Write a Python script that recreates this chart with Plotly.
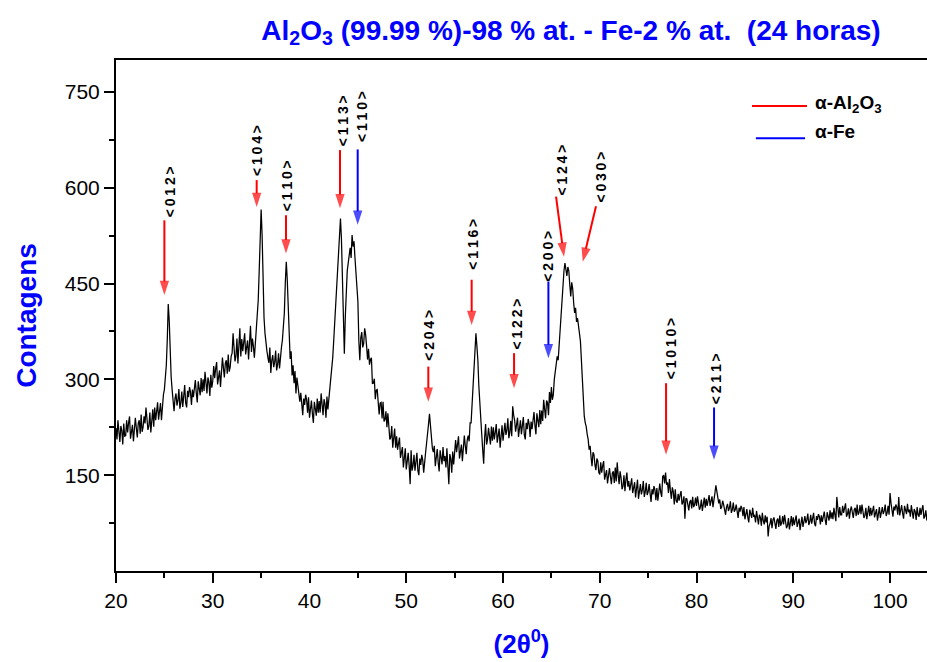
import numpy as np
import plotly.graph_objects as go

# XRD scan: 2-theta grid start/step and measured counts (one row per degree)
two_theta_start = 20.0
two_theta_step = 0.1
counts = [
    224, 206, 236, 215, 202, 227, 220, 198, 231, 211,
    212, 236, 217, 232, 242, 207, 215, 229, 203, 224,
    240, 224, 209, 231, 236, 215, 245, 218, 225, 242,
    231, 256, 243, 221, 227, 248, 217, 240, 253, 226,
    256, 236, 249, 264, 237, 248, 263, 236, 266, 276,
    284, 300, 322, 362, 418, 392, 340, 304, 284, 268,
    250, 270, 278, 259, 267, 285, 254, 263, 281, 257,
    277, 291, 263, 256, 282, 272, 288, 280, 260, 284,
    272, 291, 299, 278, 264, 297, 285, 275, 302, 280,
    300, 282, 312, 291, 278, 303, 296, 274, 307, 287,
    297, 321, 302, 317, 327, 292, 300, 314, 288, 309,
    334, 318, 303, 325, 330, 309, 339, 312, 319, 336,
    341, 372, 353, 328, 337, 364, 325, 350, 380, 336,
    363, 344, 355, 372, 339, 348, 361, 331, 358, 384,
    343, 364, 352, 334, 356, 380, 394, 424, 470, 520,
    566, 526, 456, 396, 372, 354, 344, 334, 326, 350,
    310, 330, 338, 319, 327, 345, 314, 323, 341, 317,
    339, 350, 362, 380, 404, 452, 484, 456, 414, 368,
    332, 344, 306, 322, 294, 313, 278, 303, 286, 270,
    265, 279, 251, 244, 270, 260, 276, 268, 248, 272,
    240, 259, 267, 246, 232, 265, 253, 243, 270, 248,
    266, 248, 278, 257, 244, 269, 262, 240, 273, 253,
    268, 280, 294, 312, 334, 360, 386, 420, 448, 480,
    506, 530, 552, 520, 470, 400, 340, 398, 452, 470,
    482, 498, 506, 490, 526, 508, 516, 490, 470, 450,
    422, 360, 330, 365, 374, 350, 356, 380, 370, 352,
    331, 348, 323, 331, 334, 293, 294, 301, 269, 283,
    284, 264, 245, 263, 264, 239, 265, 234, 237, 250,
    225, 247, 231, 206, 209, 227, 193, 213, 223, 193,
    211, 190, 198, 209, 177, 184, 194, 162, 186, 192,
    159, 178, 185, 165, 136, 189, 157, 165, 182, 157,
    171, 185, 157, 150, 176, 166, 182, 174, 154, 178,
    186, 200, 212, 230, 246, 222, 206, 192, 186, 196,
    164, 183, 191, 170, 156, 189, 177, 167, 194, 172,
    180, 162, 192, 171, 136, 183, 176, 154, 187, 167,
    181, 205, 186, 201, 211, 176, 184, 198, 172, 193,
    212, 196, 183, 205, 212, 203, 232, 232, 262, 290,
    314, 345, 372, 352, 330, 290, 258, 232, 214, 190,
    168, 209, 230, 198, 206, 224, 214, 198, 226, 204,
    225, 206, 217, 230, 201, 210, 223, 193, 220, 228,
    204, 224, 232, 213, 221, 239, 208, 217, 235, 211,
    258, 244, 236, 218, 228, 240, 210, 226, 236, 214,
    227, 241, 213, 206, 232, 222, 238, 230, 210, 234,
    222, 241, 249, 228, 214, 247, 235, 225, 252, 230,
    251, 235, 268, 249, 239, 267, 263, 244, 280, 263,
    288, 268, 276, 300, 314, 328, 336, 330, 356, 374,
    396, 420, 446, 470, 482, 466, 462, 476, 470, 448,
    430, 452, 442, 420, 404, 412, 390, 396, 378, 372,
    360, 330, 298, 265, 242, 232, 226, 214, 206, 190,
    196, 178, 164, 186, 182, 166, 158, 176, 172, 154,
    151, 170, 154, 165, 172, 143, 149, 158, 137, 152,
    161, 148, 136, 153, 156, 138, 162, 140, 170, 150,
    136, 156, 146, 128, 133, 150, 125, 143, 154, 132,
    141, 126, 134, 145, 122, 129, 139, 115, 137, 143,
    113, 129, 136, 120, 127, 141, 116, 124, 138, 119,
    124, 136, 113, 108, 128, 120, 133, 127, 111, 130,
    110, 128, 137, 123, 116, 148, 150, 137, 154, 135,
    139, 122, 144, 126, 113, 131, 124, 104, 128, 110,
    107, 121, 110, 119, 125, 104, 108, 117, 82, 114,
    113, 104, 95, 108, 111, 98, 116, 100, 104, 115,
    102, 117, 109, 96, 100, 112, 94, 107, 115, 99,
    113, 102, 110, 119, 102, 109, 117, 100, 117, 122,
    134, 124, 118, 106, 112, 97, 100, 110, 104, 95,
    88, 100, 105, 94, 99, 109, 91, 96, 107, 93,
    96, 104, 87, 83, 99, 93, 102, 98, 86, 100,
    81, 92, 97, 84, 76, 96, 89, 83, 99, 86,
    87, 76, 94, 81, 73, 88, 84, 71, 91, 79,
    73, 87, 76, 85, 54, 70, 74, 83, 67, 80,
    84, 75, 66, 79, 82, 69, 87, 71, 75, 86,
    73, 88, 80, 67, 71, 83, 65, 78, 86, 70,
    84, 72, 79, 87, 69, 75, 82, 64, 81, 85,
    69, 81, 86, 75, 80, 90, 72, 77, 88, 74,
    83, 91, 74, 70, 86, 80, 89, 85, 73, 87,
    77, 88, 93, 80, 72, 92, 85, 79, 95, 82,
    92, 81, 99, 86, 78, 116, 96, 84, 100, 88,
    88, 102, 91, 100, 106, 85, 89, 98, 82, 95,
    101, 92, 83, 96, 99, 86, 104, 88, 92, 103,
    89, 104, 96, 83, 87, 99, 81, 94, 102, 86,
    99, 87, 94, 102, 84, 90, 97, 79, 96, 100,
    83, 95, 100, 89, 94, 104, 86, 91, 102, 88,
    122, 106, 89, 85, 101, 95, 104, 100, 88, 116,
    87, 98, 103, 90, 82, 102, 95, 89, 105, 92,
    96, 85, 103, 90, 82, 97, 93, 80, 100, 88,
    85, 99, 88, 97, 103, 82, 86, 95, 79, 92,
    88,
]
two_theta = np.round(two_theta_start + two_theta_step * np.arange(len(counts)), 2)

# Indexed reflections: Miller indices, phase, arrow tail -> tip, label centre
hkl_labels = ["<012>", "<104>", "<110>", "<113>", "<110>", "<204>", "<116>",
              "<122>", "<200>", "<124>", "<030>", "<1010>", "<211>"]
hkl_phase = ["Al2O3", "Al2O3", "Al2O3", "Al2O3", "Fe", "Al2O3", "Al2O3",
             "Al2O3", "Fe", "Al2O3", "Al2O3", "Al2O3", "Fe"]
arrow_tail_x = [25.0, 34.54, 37.57, 43.15, 44.98, 52.28, 56.76, 61.14, 64.69, 65.48, 69.61, 76.85, 81.81]
arrow_tail_y = [549, 612, 557, 659, 660, 320, 456, 341, 453, 586, 571, 294, 256]
arrow_tip_x = [25.0, 34.54, 37.57, 43.15, 44.98, 52.28, 56.76, 61.14, 64.69, 66.30, 68.24, 76.85, 81.81]
arrow_tip_y = [432, 570, 497, 568, 542, 265, 385, 286, 333, 492, 484, 182, 174]
label_x = [25.55, 34.57, 37.67, 43.42, 45.40, 52.40, 56.90, 61.45, 64.65, 66.0, 70.03, 77.31, 81.96]
label_y = [594, 659, 604, 705, 712, 369, 511, 386, 492, 627, 616, 348, 301]

phase_colors = {"Al2O3": "#ff0000", "Fe": "#0000ff"}
phase_names = {"Al2O3": "\u03b1-Al<sub>2</sub>O<sub>3</sub>", "Fe": "\u03b1-Fe"}

x_range = [20, 103.82]
y_range = [0, 800]

fig = go.Figure()
fig.add_trace(go.Scatter(
    x=two_theta, y=counts, mode="lines",
    line=dict(color="black", width=1.25),
    showlegend=False, hoverinfo="x+y",
))

# Reflection arrows: shaft from tail to tip, arrowhead marker oriented along the shaft
for ph, tx, ty, hx, hy in zip(hkl_phase, arrow_tail_x, arrow_tail_y, arrow_tip_x, arrow_tip_y):
    fig.add_trace(go.Scatter(
        x=[tx, hx], y=[ty, hy], mode="lines+markers",
        line=dict(color=phase_colors[ph], width=2),
        marker=dict(symbol="arrow", angleref="previous", size=[0, 15],
                    color=phase_colors[ph], line=dict(width=0)),
        showlegend=False, hoverinfo="skip", cliponaxis=False,
    ))

annotations = []
thin = "\u2009"
for lab, lx, ly in zip(hkl_labels, label_x, label_y):
    txt = thin.join(lab).replace("<", "&lt;").replace(">", "&gt;")
    annotations.append(dict(
        x=lx, y=ly, xref="x", yref="y", text=txt, showarrow=False,
        textangle=-90, xanchor="center", yanchor="middle",
        font=dict(family="Liberation Sans, Arial, sans-serif", size=14, color="black", weight="bold"),
    ))

# Phase key (top right)
key_rows = [("Al2O3", 0.7842, 0.852, 0.910, 0.914), ("Fe", 0.789, 0.8496, 0.847, 0.861)]
shapes = []
for ph, x0, x1, yl, yt in key_rows:
    shapes.append(dict(type="line", xref="paper", yref="paper", x0=x0, x1=x1, y0=yl, y1=yl,
                       line=dict(color=phase_colors[ph], width=2)))
    annotations.append(dict(
        x=0.8594, y=yt, xref="paper", yref="paper", text=phase_names[ph], showarrow=False,
        xanchor="left", yanchor="middle",
        font=dict(family="Liberation Sans, Arial, sans-serif", size=19, color="black", weight="bold"),
    ))

fig.update_layout(
    width=927, height=662,
    margin=dict(l=116, r=0, t=60, b=91),
    paper_bgcolor="white", plot_bgcolor="white",
    title=dict(
        text="Al<sub>2</sub>O<sub>3</sub> (99.99 %)-98 % at. - Fe-2 % at. \u00a0(24 horas)",
        x=0.616, xanchor="center", xref="container",
        y=0.955, yanchor="middle", yref="container",
        font=dict(family="Liberation Sans, Arial, sans-serif", size=28, color="#0000ff", weight="bold"),
    ),
    annotations=annotations,
    shapes=shapes,
    showlegend=False,
)

fig.update_xaxes(
    range=x_range, showgrid=False, zeroline=False,
    showline=True, linecolor="black", linewidth=2, mirror=True,
    ticks="outside", ticklen=10, tickwidth=1.5, tickcolor="black",
    tickmode="linear", tick0=0, dtick=10,
    minor=dict(ticks="outside", ticklen=5, tickwidth=1.5, tickcolor="black", dtick=5, tick0=0, showgrid=False),
    tickfont=dict(family="Liberation Sans Narrow, Arial Narrow, Liberation Sans, sans-serif", size=21, color="black"),
    title=dict(text="(2\u03b8<sup>0</sup>)", standoff=24,
               font=dict(family="Liberation Sans, Arial, sans-serif", size=26, color="#0000ff", weight="bold")),
)
fig.update_yaxes(
    range=y_range, showgrid=False, zeroline=False,
    showline=True, linecolor="black", linewidth=2, mirror=False,
    ticks="outside", ticklen=10, tickwidth=1.5, tickcolor="black",
    tickmode="array", tickvals=[150, 300, 450, 600, 750],
    minor=dict(ticks="outside", ticklen=5, tickwidth=1.5, tickcolor="black",
               tickvals=[75, 225, 375, 525, 675], showgrid=False),
    tickfont=dict(family="Liberation Sans, Arial, sans-serif", size=21, color="black"),
    title=dict(text="Contagens", standoff=20,
               font=dict(family="Liberation Sans, Arial, sans-serif", size=28, color="#0000ff", weight="bold")),
)

fig.write_html("out.html")
